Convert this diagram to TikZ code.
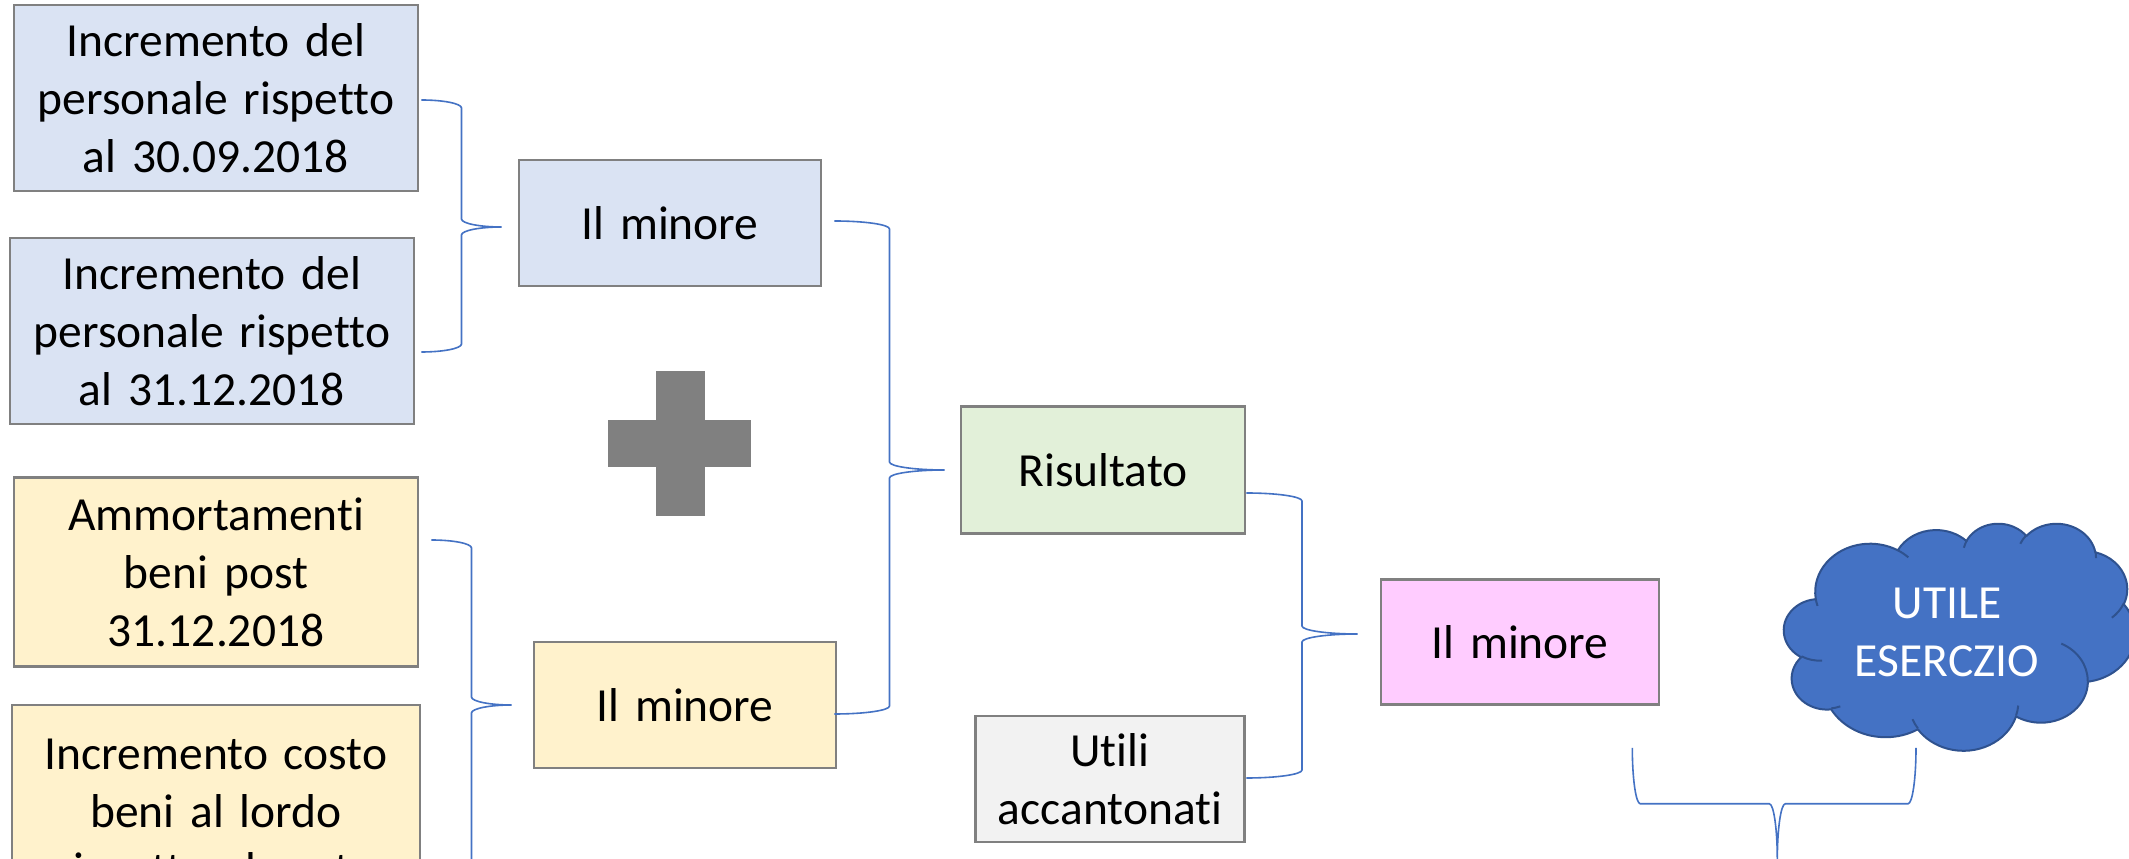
\documentclass[tikz,border=0pt]{standalone}
\usepackage{fontspec}
\setmainfont{Carlito}[Ligatures=NoCommon]
\usetikzlibrary{calc}
\definecolor{bxblue}{HTML}{DAE3F3}
\definecolor{bxyel}{HTML}{FFF2CC}
\definecolor{bxgreen}{HTML}{E2F0D9}
\definecolor{bxpink}{HTML}{FFCCFF}
\definecolor{bxgray}{HTML}{F2F2F2}
\definecolor{bxline}{HTML}{808080}
\definecolor{brcol}{HTML}{4472C4}
\definecolor{cloudfill}{HTML}{4472C4}
\definecolor{cloudline}{HTML}{2F528F}
\definecolor{plusgray}{HTML}{808080}
\tikzset{
  box/.style={draw=bxline, line width=2.6pt, rectangle, inner sep=0pt, align=center,
    font=\fontsize{47.5}{58}\selectfont},
  brc/.style={draw=brcol, line width=1.6pt},
  cloudedge/.style={draw=cloudline, line width=2pt, line join=round},
}
\newcommand\rightbrc[3]{%
  \draw[brc] let \p1=(#1), \p2=(#2), \p3=(#3), \n1={(\x2-\x1)/2}, \n2={8} in
  (\x1,\y1) .. controls (\x1+0.552*\n1,\y1) and (\x1+\n1,\y1-0.448*\n2) .. (\x1+\n1,\y1-\n2)
  -- (\x1+\n1,\y2+\n2)
  .. controls (\x1+\n1,\y2+0.448*\n2) and (\x2-0.552*\n1,\y2) .. (\x2,\y2)
  .. controls (\x2-0.552*\n1,\y2) and (\x1+\n1,\y2-0.448*\n2) .. (\x1+\n1,\y2-\n2)
  -- (\x1+\n1,\y3+\n2)
  .. controls (\x1+\n1,\y3+0.448*\n2) and (\x1+0.552*\n1,\y3) .. (\x1,\y3);
}
\newcommand\downbrc[3]{%
  \draw[brc] let \p1=(#1), \p2=(#2), \p3=(#3), \n1={(\y1-\y2)/2}, \n2={8} in
  (\x1,\y1) .. controls (\x1,\y1-0.552*\n1) and (\x1+0.448*\n2,\y1-\n1) .. (\x1+\n2,\y1-\n1)
  -- (\x2-\n2,\y1-\n1)
  .. controls (\x2-0.448*\n2,\y1-\n1) and (\x2,\y2+0.552*\n1) .. (\x2,\y2)
  .. controls (\x2,\y2+0.552*\n1) and (\x2+0.448*\n2,\y1-\n1) .. (\x2+\n2,\y1-\n1)
  -- (\x3-\n2,\y1-\n1)
  .. controls (\x3-0.448*\n2,\y1-\n1) and (\x3,\y1-0.552*\n1) .. (\x3,\y1);
}
% elliptic arc with "visual" start angle and sweep (degrees)
\newcommand\ooarc[4]{%
  \pgfextra{\pgfmathsetmacro\ooA{atan2((#1)*sin(#3),(#2)*cos(#3))}%
  \pgfmathsetmacro\ooB{atan2((#1)*sin((#3)+(#4)),(#2)*cos((#3)+(#4)))}%
  \pgfmathsetmacro\ooD{mod(\ooB-\ooA+720,360)}}%
  arc[start angle=\ooA, delta angle=\ooD, x radius=#1pt, y radius=#2pt]}
\begin{document}
\begin{tikzpicture}[x=1pt,y=1pt]
\useasboundingbox (0,0) rectangle (2129,859);
\fill[white] (0,0) rectangle (2129,859);
\clip (0,0) rectangle (2129,859);

\node[box, fill=bxblue, text width=404pt, minimum height=186pt] (A1) at (216,761)
  {Incremento del\\personale rispetto\\al 30.09.2018};
\node[box, fill=bxblue, text width=404pt, minimum height=186pt] (A2) at (212,528)
  {Incremento del\\personale rispetto\\al 31.12.2018};
\node[box, fill=bxblue, text width=302pt, minimum height=126pt] (M1) at (670,636) {Il minore};

\node[box, fill=bxyel, text width=404pt, minimum height=189pt] (B1) at (216,287)
  {Ammortamenti\\beni post\\31.12.2018};
\node[box, fill=bxyel, text width=408pt, minimum height=222pt] (B2) at (216,43)
  {Incremento costo\\beni al lordo\\rispetto al costo};
\node[box, fill=bxyel, text width=302pt, minimum height=126pt] (M2) at (685,154) {Il minore};

\node[box, fill=bxgreen, text width=284pt, minimum height=127pt] (R) at (1103,389) {Risultato};
\node[box, fill=bxgray, text width=269pt, minimum height=126pt] (U) at (1110,80) {Utili\\accantonati};
\node[box, fill=bxpink, text width=278pt, minimum height=125pt] (M3) at (1520,217) {Il minore};

% cloud outline
\begin{scope}[shift={(1784,336)}, xscale=351/432, yscale=-227/432]
  \filldraw[fill=cloudfill, cloudedge] (39.00,143.70)
    \ooarc{67.53}{91.90}{-190.4875}{123.7805}
    \ooarc{53.33}{72.67}{-144.1024}{89.9452}
    \ooarc{43.65}{59.45}{-145.8079}{99.7230}
    \ooarc{48.57}{65.95}{-130.9861}{117.2417}
    \ooarc{53.33}{72.73}{-78.7089}{109.0269}
    \ooarc{67.75}{92.20}{-46.2673}{130.2690}
    \ooarc{57.85}{78.67}{0.6250}{114.0333}
    \ooarc{67.52}{92.15}{22.4516}{115.1726}
    \ooarc{77.20}{105.43}{66.2426}{75.7110}
    \ooarc{43.60}{59.18}{-274.9421}{146.7356}
    \ooarc{43.45}{59.45}{-246.8285}{152.5189}
    -- cycle;
  \draw[cloudedge] (46.93,261.77) \ooarc{43.45}{59.45}{86.7420}{26.4295};
  \draw[cloudedge] (69.28,348.99) \ooarc{43.60}{59.18}{73.6105}{11.4475};
  \draw[cloudedge] (164.78,390.90) \ooarc{67.52}{92.15}{137.6242}{14.0811};
  \draw[cloudedge] (288.27,347.51) \ooarc{67.52}{92.15}{6.4533}{15.9984};
  \draw[cloudedge] (341.29,229.54) \ooarc{57.85}{78.67}{-70.2924}{70.9174};
  \draw[cloudedge] (417.98,153.54) \ooarc{53.33}{72.73}{30.3180}{27.7515};
  \draw[cloudedge] (383.24,54.26) \ooarc{48.57}{65.95}{-13.7443}{14.8589};
  \draw[cloudedge] (290.78,39.52) \ooarc{48.57}{65.95}{-149.1815}{18.1954};
  \draw[cloudedge] (221.41,47.20) \ooarc{43.65}{59.45}{-163.4943}{17.6864};
  \draw[cloudedge] (140.00,51.92) \ooarc{67.53}{91.90}{-66.7070}{12.3194};
  \draw[cloudedge] (41.27,157.89) \ooarc{67.53}{91.90}{157.6544}{11.8582};
\end{scope}
\node[inner sep=0pt, align=center, text=white, font=\fontsize{47.5}{58}\selectfont]
  (C) at (1947,227) {UTILE\\ESERCZIO};

\fill[plusgray] (656,343) rectangle (705,488);
\fill[plusgray] (608,392) rectangle (751,439);

\coordinate (b1top) at ($(A1.east)+(2,-2)$);
\coordinate (b1bot) at ($(A2.east)+(6,-21)$);
\coordinate (b1tip) at ($(M1.west)+(-16,-4)$);
\coordinate (b2top) at ($(M1.east)+(12,2)$);
\coordinate (b2bot) at ($(M2.east)+(-3,-9)$);
\coordinate (b2tip) at ($(R.west)+(-15,0)$);
\coordinate (b3top) at ($(B1.east)+(12,32)$);
\coordinate (b3bot) at ($(B2.east)+(10,-54)$);
\coordinate (b3tip) at ($(M2.west)+(-21,0)$);
\coordinate (b4top) at ($(R.east)+(0,-23)$);
\coordinate (b4bot) at ($(U.east)+(0,1)$);
\coordinate (b4tip) at ($(M3.west)+(-22,8)$);
\coordinate (b5l) at ($(M3.south east)+(-28,-42)$);
\coordinate (b5r) at ($(C.center)+(-31,-115)$);
\coordinate (b5tip) at ($(b5l)+(145,-112)$);

\rightbrc{b1top}{b1tip}{b1bot}
\rightbrc{b2top}{b2tip}{b2bot}
\rightbrc{b3top}{b3tip}{b3bot}
\rightbrc{b4top}{b4tip}{b4bot}
\downbrc{b5l}{b5tip}{b5r}
\end{tikzpicture}
\end{document}
